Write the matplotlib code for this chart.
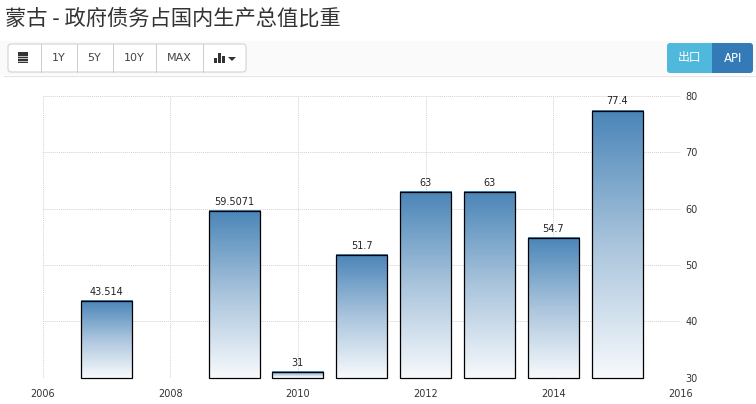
""" Mongolia government debt to GDP chart """

import numpy as np
import matplotlib
matplotlib.use('Agg')
import matplotlib.pyplot as plt
from matplotlib.patches import Rectangle, FancyBboxPatch
from matplotlib.colors import LinearSegmentedColormap

plt.rcParams['font.family'] = ['Noto Sans CJK SC', 'DejaVu Sans']

# * Data
years = [2007, 2009, 2010, 2011, 2012, 2013, 2014, 2015]
values = [43.514, 59.5071, 31, 51.7, 63, 63, 54.7, 77.4]
value_labels = ['43.514', '59.5071', '31', '51.7', '63', '63', '54.7', '77.4']
x_ticks = [2006, 2008, 2010, 2012, 2014, 2016]
y_ticks = [30, 40, 50, 60, 70, 80]
title = '蒙古 - 政府债务占国内生产总值比重'
range_buttons = ['1Y', '5Y', '10Y', 'MAX']

W, H = 756, 404
BAR_WIDTH = 0.8

fig = plt.figure(figsize=(W / 100, H / 100), dpi=100, facecolor='white')

# * Main chart
ax = fig.add_axes([42.5 / W, 1 - 377.5 / H, (681 - 42.5) / W, (377.5 - 96) / H])
ax.set_xlim(2006, 2016)
ax.set_ylim(30, 80)
ax.set_xticks(x_ticks)
ax.set_yticks(y_ticks)
ax.yaxis.tick_right()
ax.grid(True, color='#d2d2d2', linestyle=(0, (1, 1)), linewidth=0.7)
ax.set_axisbelow(True)
for side in ax.spines.values():
    side.set_visible(False)
ax.tick_params(length=0, labelsize=7, labelcolor='#333333')
ax.tick_params(axis='x', pad=8)
ax.tick_params(axis='y', pad=3)
for lab in ax.get_xticklabels() + ax.get_yticklabels():
    lab.set_family('DejaVu Sans')

cmap = LinearSegmentedColormap.from_list('bar', ['#f6f9fc', '#a9c4dc', '#4a85b8'])
gradient = np.linspace(0, 1, 256).reshape(-1, 1)
for year, val, text in zip(years, values, value_labels):
    left = year - BAR_WIDTH / 2
    ax.imshow(gradient, cmap=cmap, origin='lower', aspect='auto', zorder=2,
              extent=(left, left + BAR_WIDTH, 30, val))
    ax.add_patch(Rectangle((left, 30), BAR_WIDTH, val - 30, fill=False,
                           edgecolor='black', linewidth=0.9, zorder=3, clip_on=False))
    ax.annotate(text, (year, val), xytext=(0, 3), textcoords='offset points',
                ha='center', va='bottom', fontsize=7, color='#222222',
                family='DejaVu Sans')
ax.set_xlim(2006, 2016)
ax.set_ylim(30, 80)

# * Page elements, in pixels
ui = fig.add_axes([0, 0, 1, 1], zorder=-1)
ui.set_xlim(0, W)
ui.set_ylim(H, 0)
ui.axis('off')

ui.text(5, 19, title, fontsize=15.3, color='#333333', va='center', ha='left')
ui.add_patch(Rectangle((0, 41), W, 34, color='#fafafa', linewidth=0))
ui.plot([4, W], [75.5, 75.5], color='#e4e4e4', linewidth=0.8)

ui.add_patch(FancyBboxPatch((8, 44), 238, 28, boxstyle='round,pad=0,rounding_size=3',
                            facecolor='white', edgecolor='#cccccc', linewidth=0.7))
for sep in [40.5, 76.5, 112.5, 155.5, 202.5]:
    ui.plot([sep, sep], [44, 72], color='#cccccc', linewidth=0.7)
for cx, label in zip([58.5, 94.5, 134, 179], range_buttons):
    ui.text(cx, 58, label, fontsize=8, color='#444444', ha='center', va='center',
            family='DejaVu Sans')

# calendar icon
ui.add_patch(Rectangle((18, 52), 10, 11, color='#333333', linewidth=0))
for ly in [55.5, 58, 60.5]:
    ui.plot([18, 28], [ly, ly], color='white', linewidth=0.5)
# chart icon
for bx, top in zip([214, 218, 222], [58, 53, 56]):
    ui.add_patch(Rectangle((bx, top), 3, 63 - top, color='#333333', linewidth=0))
ui.fill([228, 236, 232], [57, 57, 61], color='#333333', linewidth=0)

# export and API buttons
ui.add_patch(FancyBboxPatch((667, 43), 50, 30, boxstyle='round,pad=0,rounding_size=3',
                            facecolor='#4fb8dc', edgecolor='none'))
ui.add_patch(FancyBboxPatch((712, 43), 41, 30, boxstyle='round,pad=0,rounding_size=3',
                            facecolor='#337ab7', edgecolor='none'))
ui.add_patch(Rectangle((712, 43), 6, 30, color='#337ab7', linewidth=0))
ui.text(689.5, 58, '出口', fontsize=8.5, color='white', ha='center', va='center')
ui.text(733, 58, 'API', fontsize=8.5, color='white', ha='center', va='center',
        family='DejaVu Sans')

fig.savefig('out.png', dpi=100)
